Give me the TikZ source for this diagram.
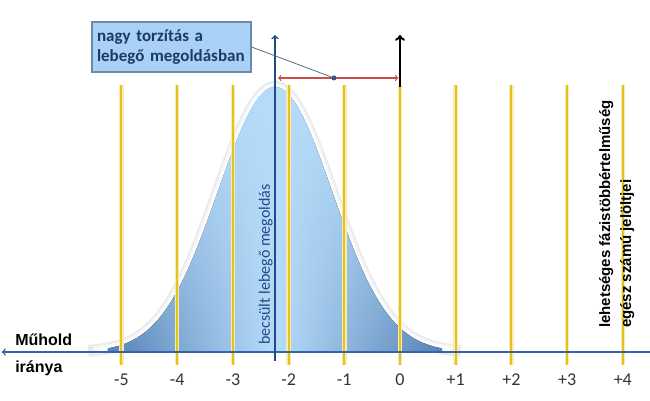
\documentclass[tikz,border=0pt]{standalone}
\usepackage{fontspec}
\usetikzlibrary{fadings}
\setmainfont{Carlito}
\newfontfamily\muholdfont{Liberation Sans}
\definecolor{sarga}{HTML}{E6C21E}
\definecolor{sargahalvany}{HTML}{F6EBB0}
\definecolor{tengely}{HTML}{2F66AC}
\definecolor{sotetkek}{HTML}{1F4A86}
\definecolor{piros}{HTML}{CC4B4B}
\definecolor{dobozkek}{HTML}{A9D1F6}
\definecolor{dobozkeret}{HTML}{6B8BA8}
\definecolor{szoveg}{HTML}{1B3A66}
\definecolor{harangsotet}{HTML}{5582B6}
\definecolor{harangvilagos}{HTML}{B7DCFA}
\begin{document}
\begin{tikzpicture}[x=55.7pt,y=55.7pt,
 racs/.style={sarga,line width=2pt,preaction={draw,sargahalvany,line width=4.5pt}},
 szam/.style={font=\fontsize{18}{20}\selectfont,text=black!80,inner sep=0pt},
 vastag/.style={font=\muholdfont\bfseries\fontsize{15}{17}\selectfont,inner sep=0pt}]
 \useasboundingbox (-7.181,-0.862) rectangle (4.488,6.320);
 \draw[gray!16,line width=12pt] plot[domain=-5.6:1.1,samples=80] (\x,{4.76*exp(-((\x+2.244)^2)/2.1)});
 \draw[gray!6,line width=8pt] plot[domain=-5.5:1.0,samples=80] (\x,{4.76*exp(-((\x+2.244)^2)/2.1)});
 \draw[white,line width=4pt] plot[domain=-5.4:0.9,samples=80] (\x,{4.76*exp(-((\x+2.244)^2)/2.1)});
 \fill[left color=harangsotet,right color=harangsotet,middle color=harangvilagos] (-5.244,0) -- plot[domain=-5.244:0.756,samples=80] (\x,{4.76*exp(-((\x+2.244)^2)/2.1)}) -- (0.756,0) -- cycle;
 \fill[harangvilagos,path fading=south] (-5.244,0) -- plot[domain=-5.244:0.756,samples=80] (\x,{4.76*exp(-((\x+2.244)^2)/2.1)}) -- (0.756,0) -- cycle;
 \draw[racs](-5,-0.23)--(-5,4.79);
 \draw[racs](-4,-0.23)--(-4,4.79);
 \draw[racs](-3,-0.23)--(-3,4.79);
 \draw[racs](-2,-0.23)--(-2,4.79);
 \draw[racs](-1,-0.23)--(-1,4.79);
 \draw[racs](0,-0.23)--(0,4.79);
 \draw[racs](1,-0.23)--(1,4.79);
 \draw[racs](2,-0.23)--(2,4.79);
 \draw[racs](3,-0.23)--(3,4.79);
 \draw[racs](4,-0.23)--(4,4.79);
 \coordinate (tengelyjobb) at (4.488,0);
 \coordinate (tengelybal) at (-7.15,0);
 \draw[tengely,line width=1.6pt,->](tengelyjobb)--(tengelybal);
 \coordinate (becslesalj) at (-2.244,-0.16);
 \coordinate (becslesteto) at (-2.244,5.69);
 \draw[sotetkek,line width=1.6pt,->](becslesalj)--(becslesteto);
 \coordinate (nulla) at (0,4.76);
 \coordinate (nullateto) at (0,5.69);
 \draw[black,line width=2.4pt,->](nulla)--(nullateto);
 \coordinate (pirosbal) at (-2.19,4.92);
 \coordinate (pirosjobb) at (-0.03,4.92);
 \draw[piros,line width=1.2pt,<->](pirosbal)--(pirosjobb);
 \node[draw=dobozkeret,line width=1.2pt,fill=dobozkek,text=szoveg,font=\bfseries\fontsize{17}{20}\selectfont,align=left,text width=149pt,inner xsep=5pt,minimum height=50pt] (torzitas) at (-4.102,5.476) {nagy torzítás a\\lebegő megoldásban};
 \node[circle,fill=sotetkek!80!gray,inner sep=0pt,minimum size=5pt] (pont) at (-1.185,4.92) {};
 \draw[dobozkeret!80!black,line width=0.8pt](torzitas.east)--(pont);
 \node[rotate=90,anchor=base west,text=sotetkek,font=\fontsize{16}{18}\selectfont,inner sep=0pt] (becsult) at (-2.334,0.126) {becsült lebegő megoldás};
 \node[vastag,font=\muholdfont\bfseries\fontsize{16}{18}\selectfont,anchor=base west] (muhold) at (-6.91,0.11) {Műhold};
 \node[vastag,font=\muholdfont\bfseries\fontsize{16}{18}\selectfont,anchor=base west] (iranya) at (-6.91,-0.36) {iránya};
 \node[vastag,rotate=90,anchor=base west] (fazis) at (3.77,0.43) {lehetséges fázistöbbértelműség};
 \node[vastag,rotate=90,anchor=base west] (egesz) at (4.15,0.43) {egész számú jelöltjei};
 \node[szam] (m5) at (-5,-0.5) {-5};
 \node[szam] (m4) at (-4,-0.5) {-4};
 \node[szam] (m3) at (-3,-0.5) {-3};
 \node[szam] (m2) at (-2,-0.5) {-2};
 \node[szam] (m1) at (-1,-0.5) {-1};
 \node[szam] (n0) at (0,-0.5) {0};
 \node[szam] (p1) at (1,-0.5) {+1};
 \node[szam] (p2) at (2,-0.5) {+2};
 \node[szam] (p3) at (3,-0.5) {+3};
 \node[szam] (p4) at (4,-0.5) {+4};
\end{tikzpicture}
\end{document}
